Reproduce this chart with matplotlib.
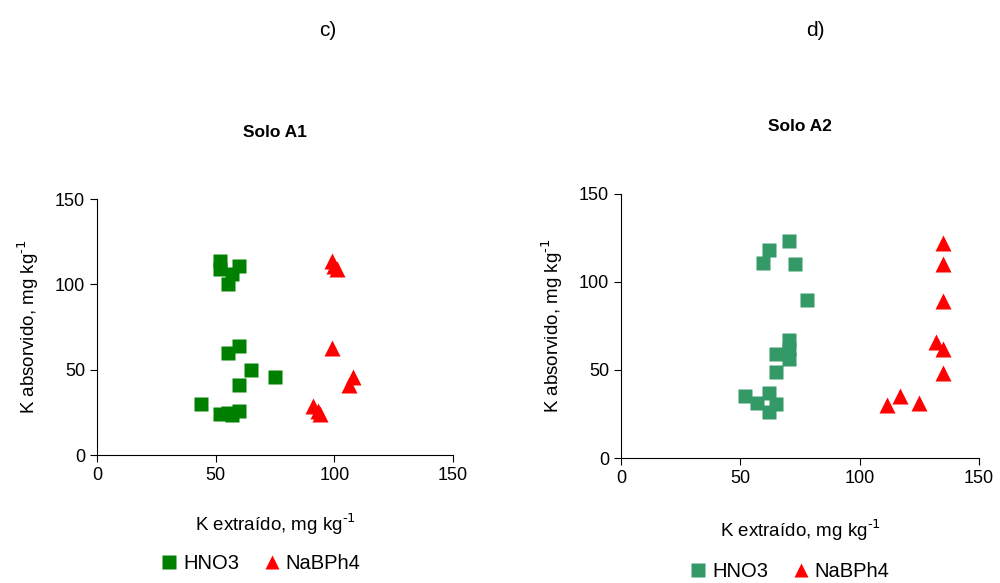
import matplotlib
matplotlib.use("Agg")
import matplotlib.pyplot as plt

plt.rcParams['font.family'] = ['Liberation Sans', 'DejaVu Sans']

# Solo A1 data (K extraido, K absorvido)
a1_hno3_x = [52, 52, 60, 57, 55, 60, 55, 65, 75, 60, 44, 52, 57, 60, 55]
a1_hno3_y = [114, 109, 111, 106, 100, 64, 60, 50, 46, 41, 30, 24, 23.5, 26, 24.5]
a1_nabph4_x = [99, 100, 101, 99, 108, 106, 91, 93, 94]
a1_nabph4_y = [114, 111, 109, 63, 46, 41, 29, 26, 24]

# Solo A2 data
a2_hno3_x = [70.5, 62, 59.5, 73, 78, 70.5, 70.5, 70.5, 65, 65, 52, 57, 62, 65, 62]
a2_hno3_y = [123, 118, 111, 110, 90, 67, 62, 56, 59, 49, 35, 31.5, 37, 30.5, 26]
a2_nabph4_x = [135, 135, 135, 132, 135, 135, 111.5, 117, 125]
a2_nabph4_y = [122, 110, 89, 66, 62, 48, 30, 35, 31]

ticks = [0, 50, 100, 150]

fig = plt.figure(figsize=(10, 5.83), dpi=100)
ax1 = fig.add_axes([0.097, 0.2195, 0.356, 0.439])
ax2 = fig.add_axes([0.621, 0.2144, 0.358, 0.453])

panels = [
    (ax1, a1_hno3_x, a1_hno3_y, a1_nabph4_x, a1_nabph4_y, '#008000', 'Solo A1',
     (0.260, 0.034), 20),
    (ax2, a2_hno3_x, a2_hno3_y, a2_nabph4_x, a2_nabph4_y, '#339966', 'Solo A2',
     (0.789, 0.019), 22),
]

for ax, hx, hy, nx, ny, green, title, leg_pos, xpad in panels:
    ax.plot(hx, hy, 's', color=green, markersize=10.5, markeredgecolor='none',
            clip_on=False, label='HNO3')
    ax.plot(nx, ny, '^', color='#ff0000', markersize=11, markeredgecolor='none',
            clip_on=False, label='NaBPh4')
    ax.set_xlim(0, 150)
    ax.set_ylim(0, 150)
    ax.set_xticks(ticks)
    ax.set_yticks(ticks)
    ax.spines['top'].set_visible(False)
    ax.spines['right'].set_visible(False)
    ax.tick_params(direction='out', length=5, labelsize=13)
    ax.set_title(title, fontsize=12.5, fontweight='bold', pad=45)
    ax.set_xlabel(r'K extraído, mg kg$^{\text{-}1}$', fontsize=13.5, labelpad=xpad)
    ax.set_ylabel(r'K absorvido, mg kg$^{\text{-}1}$', fontsize=13.5, labelpad=10)
    ax.legend(loc='center', bbox_to_anchor=leg_pos, bbox_transform=fig.transFigure,
              ncol=2, frameon=False, fontsize=14.5, handletextpad=0.2,
              columnspacing=1.1, handlelength=1.0, markerscale=0.95)

fig.text(0.328, 0.948, 'c)', fontsize=15, ha='center', va='center')
fig.text(0.815, 0.948, 'd)', fontsize=15, ha='center', va='center')

plt.savefig('out.png', dpi=100)
